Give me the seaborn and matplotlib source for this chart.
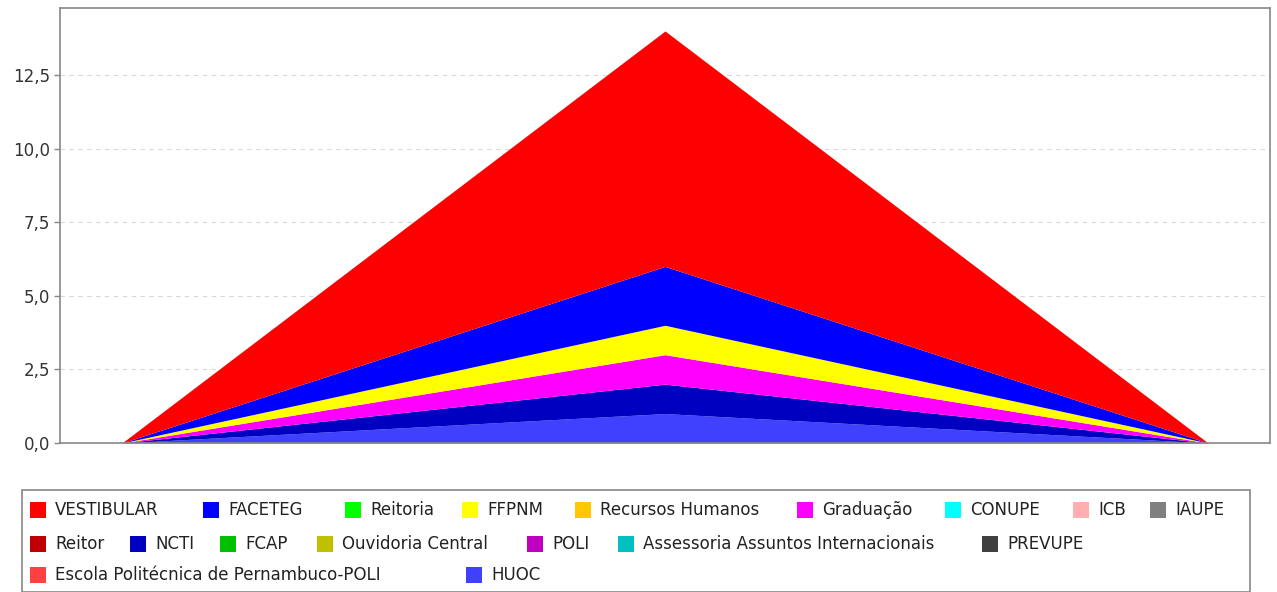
"""
Stacked area chart: demandas por setor (recreated).
"""
import matplotlib

matplotlib.use("Agg")
import matplotlib.pyplot as plt
from matplotlib.patches import Rectangle
from matplotlib.ticker import FuncFormatter, MultipleLocator
import seaborn as sns

# ---- data ----
SETORES = [
    "VESTIBULAR", "FACETEG", "Reitoria", "FFPNM", "Recursos Humanos",
    "Graduação", "CONUPE", "ICB", "IAUPE", "Reitor", "NCTI", "FCAP",
    "Ouvidoria Central", "POLI", "Assessoria Assuntos Internacionais",
    "PREVUPE", "Escola Politécnica de Pernambuco-POLI", "HUOC",
]
PERIODOS = [0, 1, 2]
VESTIBULAR = [0, 8, 0]
FACETEG = [0, 2, 0]
REITORIA = [0, 0, 0]
FFPNM = [0, 1, 0]
RECURSOS_HUMANOS = [0, 0, 0]
GRADUACAO = [0, 1, 0]
CONUPE = [0, 0, 0]
ICB = [0, 0, 0]
IAUPE = [0, 0, 0]
REITOR = [0, 0, 0]
NCTI = [0, 1, 0]
FCAP = [0, 0, 0]
OUVIDORIA = [0, 0, 0]
POLI = [0, 0, 0]
ASSESSORIA = [0, 0, 0]
PREVUPE = [0, 0, 0]
ESCOLA_POLI = [0, 0, 0]
HUOC = [0, 1, 0]

CORES = [
    "#ff0000", "#0000ff", "#00ff00", "#ffff00", "#ffc800",
    "#ff00ff", "#00ffff", "#ffafaf", "#808080", "#c00000",
    "#0000c0", "#00c000", "#c0c000", "#c000c0", "#00c0c0",
    "#404040", "#ff4040", "#4040ff",
]

# legend layout (pixel positions of each swatch, JFreeChart flow layout)
LEGEND_X = [30, 203, 345, 462, 575, 797, 945, 1073, 1150,
            30, 130, 220, 317, 527, 618, 982,
            30, 466]
LEGEND_ROW = [0] * 9 + [1] * 7 + [2] * 2
ROW_Y = [510, 544, 575]

W, H = 1277, 592


def main() -> None:
    sns.set_theme(style="white")
    plt.rcParams["font.family"] = ["DejaVu Sans"]

    series = [
        VESTIBULAR, FACETEG, REITORIA, FFPNM, RECURSOS_HUMANOS, GRADUACAO,
        CONUPE, ICB, IAUPE, REITOR, NCTI, FCAP, OUVIDORIA, POLI,
        ASSESSORIA, PREVUPE, ESCOLA_POLI, HUOC,
    ]

    fig = plt.figure(figsize=(W / 100, H / 100), dpi=100)
    ax = fig.add_axes([60 / W, 1 - 443 / H, 1210 / W, 435 / H])

    # last series sits at the bottom of the stack
    ax.stackplot(PERIODOS, *series[::-1], colors=CORES[::-1], linewidth=0)

    ax.set_xlim(-0.114, 2.114)
    ax.set_ylim(0, 14.78)
    ax.yaxis.set_major_locator(MultipleLocator(2.5))
    ax.yaxis.set_major_formatter(FuncFormatter(lambda v, _: f"{v:.1f}".replace(".", ",")))
    ax.set_xticks([])
    ax.tick_params(axis="y", labelsize=12, labelcolor="#333333", color="#888888",
                   length=4, width=1, direction="out", left=True, pad=3)
    ax.grid(axis="y", color="#d8d8d8", linestyle=(0, (4, 4)), linewidth=0.8)
    ax.set_axisbelow(True)
    for sp in ax.spines.values():
        sp.set_color("#888888")
        sp.set_linewidth(1.2)

    # legend box
    fig.patches.append(Rectangle((22 / W, 0.0), 1228 / W, 102 / H,
                                 transform=fig.transFigure, fill=False,
                                 edgecolor="#888888", linewidth=1.2))

    for nome, cor, x, row in zip(SETORES, CORES, LEGEND_X, LEGEND_ROW):
        yc = ROW_Y[row]
        fig.patches.append(Rectangle((x / W, 1 - (yc + 8) / H), 16 / W, 16 / H,
                                     transform=fig.transFigure, facecolor=cor,
                                     edgecolor="none"))
        fig.text((x + 25) / W, 1 - yc / H, nome, fontsize=12, color="#222222",
                 va="center", ha="left")

    fig.savefig("out.png", dpi=100)
    plt.close(fig)


if __name__ == "__main__":
    main()
